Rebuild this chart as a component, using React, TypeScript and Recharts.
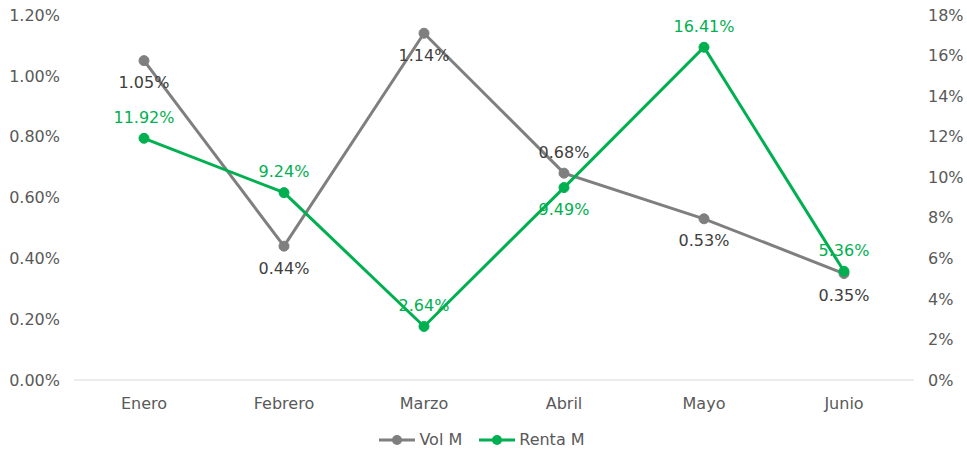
import React from "react";
import { LineChart, Line, XAxis, YAxis, Legend, LabelList } from "recharts";

const months = ["Enero", "Febrero", "Marzo", "Abril", "Mayo", "Junio"];
const volM = [1.05, 0.44, 1.14, 0.68, 0.53, 0.35];
const rentaM = [11.92, 9.24, 2.64, 9.49, 16.41, 5.36];
const leftTicks = [0, 0.2, 0.4, 0.6, 0.8, 1.0, 1.2];
const rightTicks = [0, 2, 4, 6, 8, 10, 12, 14, 16, 18];

// label side per point: 1 = below, -1 = above
const volSide = [1, 1, 1, -1, 1, 1];
const rentaSide = [-1, -1, -1, 1, -1, -1];

const GRAY = "#7f7f7f";
const GREEN = "#00b050";
const FONT = "'DejaVu Sans', Verdana, sans-serif";
const FS = 16;

const data = months.map((m, i) => ({ name: m, vol: volM[i], renta: rentaM[i] }));

const makeLabel = (side: number[], color: string) => (props: any) => {
  const { x, y, value, index } = props;
  const dy = side[index] > 0 ? 22 : -21;
  return (
    <text
      x={x}
      y={y + dy}
      textAnchor="middle"
      dominantBaseline="central"
      fill={color}
      fontSize={FS}
      fontFamily={FONT}
    >
      {Number(value).toFixed(2)}%
    </text>
  );
};

const LegendContent = () => {
  const items = [
    { label: "Vol M", color: GRAY },
    { label: "Renta M", color: GREEN },
  ];
  return (
    <div style={{ display: "flex", justifyContent: "center", paddingLeft: 14, paddingTop: 9, fontFamily: FONT, fontSize: FS, color: "#595959" }}>
      {items.map((it) => (
        <div key={it.label} style={{ display: "flex", alignItems: "center", marginRight: 17 }}>
          <svg width={36} height={12} style={{ marginRight: 4 }}>
            <line x1={0} y1={6} x2={36} y2={6} stroke={it.color} strokeWidth={3} />
            <circle cx={18} cy={6} r={5} fill={it.color} />
          </svg>
          <span>{it.label}</span>
        </div>
      ))}
    </div>
  );
};

export default function App() {
  return (
    <div style={{ position: "absolute", left: 0, top: 0, background: "#fff" }}>
      <LineChart width={967} height={451} data={data} margin={{ top: 15, right: 0, bottom: 0, left: 0 }}>
        <XAxis
          dataKey="name"
          height={41}
          padding={{ left: 70, right: 70 }}
          tickLine={false}
          tickSize={0}
          tickMargin={18}
          axisLine={{ stroke: "#d9d9d9", strokeWidth: 1 }}
          tick={{ fill: "#595959", fontSize: FS, fontFamily: FONT }}
          interval={0}
        />
        <YAxis
          yAxisId="left"
          width={74}
          domain={[0, 1.2]}
          ticks={leftTicks}
          tickFormatter={(v: number) => v.toFixed(2) + "%"}
          axisLine={false}
          tickLine={false}
          tickSize={0}
          tickMargin={14}
          tick={{ fill: "#595959", fontSize: FS, fontFamily: FONT }}
        />
        <YAxis
          yAxisId="right"
          orientation="right"
          width={53}
          domain={[0, 18]}
          ticks={rightTicks}
          tickFormatter={(v: number) => v + "%"}
          axisLine={false}
          tickLine={false}
          tickSize={0}
          tickMargin={14}
          tick={{ fill: "#595959", fontSize: FS, fontFamily: FONT, textAnchor: "start" }}
        />
        <Legend verticalAlign="bottom" wrapperStyle={{ height: 30 }} content={<LegendContent />} />
        <Line
          yAxisId="left"
          dataKey="vol"
          name="Vol M"
          stroke={GRAY}
          strokeWidth={3}
          dot={{ r: 5, fill: GRAY, stroke: GRAY, strokeWidth: 1 }}
          activeDot={false}
          isAnimationActive={false}
        >
          <LabelList dataKey="vol" content={makeLabel(volSide, "#404040")} />
        </Line>
        <Line
          yAxisId="right"
          dataKey="renta"
          name="Renta M"
          stroke={GREEN}
          strokeWidth={3}
          dot={{ r: 5, fill: GREEN, stroke: GREEN, strokeWidth: 1 }}
          activeDot={false}
          isAnimationActive={false}
        >
          <LabelList dataKey="renta" content={makeLabel(rentaSide, GREEN)} />
        </Line>
      </LineChart>
    </div>
  );
}
